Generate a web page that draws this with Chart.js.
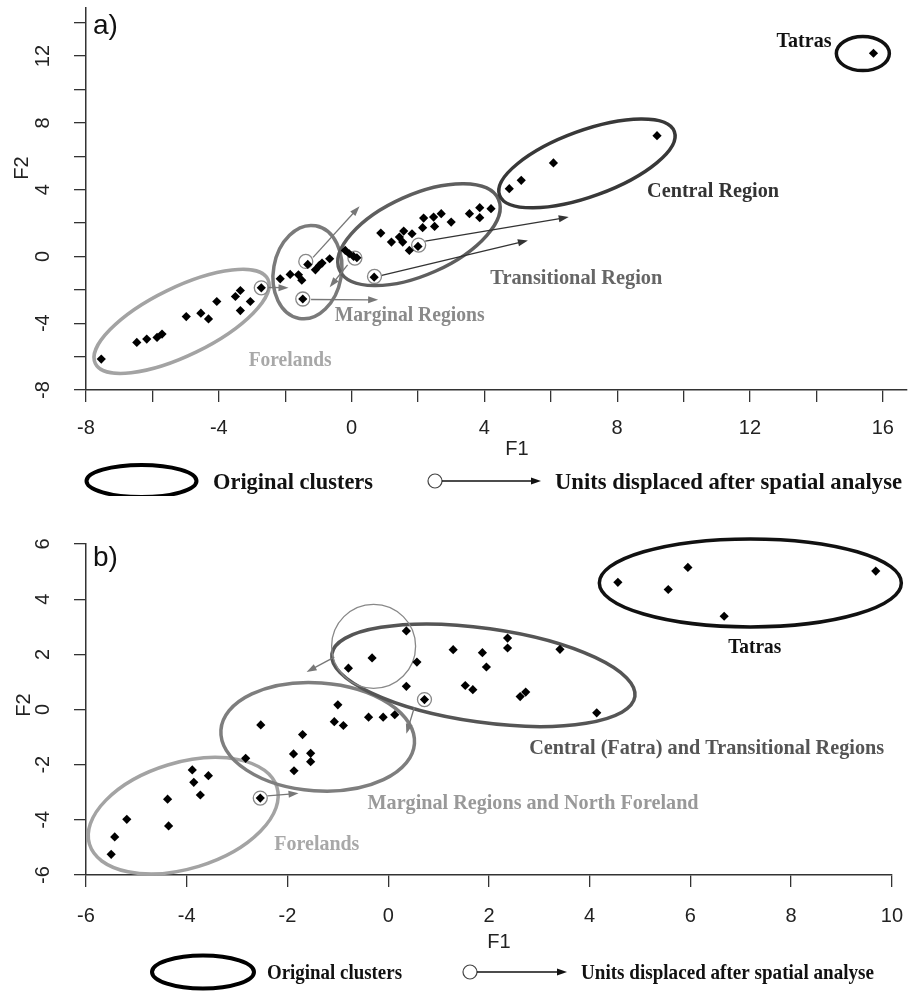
<!DOCTYPE html>
<html>
<head>
<meta charset="utf-8">
<script src="https://cdn.jsdelivr.net/npm/chart.js@4/dist/chart.umd.min.js"></script>
<style>
  body { margin: 0; background: #fff; }
  canvas { display: block; }
</style>
</head>
<body>
<canvas id="chartA" width="920" height="496"></canvas>
<canvas id="chartB" width="920" height="496"></canvas>
<script>
// panel a) scores on F1 / F2
const f1A = [-7.54, -6.47, -6.17, -5.86, -5.71, -4.98, -4.54, -4.31, -4.06, -3.5, -3.35, -3.35, -3.05,
  -2.72, -2.15, -1.85, -1.6, -1.5, -1.47, -1.32, -1.09, -0.97, -0.89, -0.66, -0.19, -0.07, 0.06, 0.16,
  0.68, 0.88, 1.2, 1.44, 1.57, 1.54, 1.74, 1.82, 2.0, 2.14, 2.17, 2.47, 2.5, 2.7, 3.0, 3.55, 3.86, 3.86,
  4.2, 4.75, 5.11, 6.08, 9.2, 15.72];
const f2A = [-6.15, -5.15, -4.95, -4.85, -4.65, -3.6, -3.4, -3.74, -2.7, -2.4, -2.04, -3.24, -2.7,
  -1.88, -1.34, -1.08, -1.1, -1.42, -2.55, -0.48, -0.8, -0.54, -0.4, -0.14, 0.36, 0.16, 0.0, -0.08,
  -1.24, 1.4, 0.86, 1.16, 1.52, 0.86, 0.36, 1.36, 0.6, 1.72, 2.3, 2.36, 1.8, 2.56, 2.06, 2.56, 2.92, 2.32,
  2.86, 4.06, 4.56, 5.6, 7.23, 12.17];

// panel b) scores on F1 / F2
const f1B = [-5.5, -5.43, -5.19, -4.38, -4.36, -3.89, -3.86, -3.73, -3.57, -2.54, -2.83, -2.53, -1.88,
  -1.87, -1.7, -1.54, -1.54, -1.07, -1.0, -0.89, -0.79, -0.39, -0.32, -0.1, 0.13, 0.36, 0.36, 0.57, 0.72,
  1.29, 1.53, 1.68, 1.87, 1.95, 2.37, 2.37, 2.62, 2.73, 3.41, 4.14, 4.56, 5.56, 5.95, 6.67, 9.68];
const f2B = [-5.25, -4.62, -3.98, -3.25, -4.22, -2.19, -2.64, -3.1, -2.4, -3.21, -1.77, -0.56, -1.61,
  -2.22, -0.91, -1.59, -1.89, -0.44, 0.17, -0.58, 1.5, -0.28, 1.87, -0.28, -0.19, 2.85, 0.84, 1.72, 0.36,
  2.17, 0.87, 0.72, 2.06, 1.54, 2.59, 2.23, 0.47, 0.63, 2.18, -0.12, 4.61, 4.35, 5.15, 3.38, 5.02];

// labelled ticks
const xLabelsA = [-8, -4, 0, 4, 8, 12, 16];
const yLabelsA = [-8, -4, 0, 4, 8, 12];
const xLabelsB = [-6, -4, -2, 0, 2, 4, 6, 8, 10];
const yLabelsB = [-6, -4, -2, 0, 2, 4, 6];

// cluster ellipses: centre in data units
const ellipsesA = [
  { x: -5.12, y: -3.89, rx: 96, ry: 34, rot: -26, color: '#a3a3a3' },
  { x: -1.33, y: -0.94, rx: 34, ry: 47, rot: 10, color: '#7a7a7a' },
  { x: 2.03, y: 1.3, rx: 87, ry: 40, rot: -24, color: '#5e5e5e' },
  { x: 7.09, y: 5.57, rx: 93, ry: 33, rot: -20, color: '#383838' },
  { x: 15.4, y: 12.15, rx: 26.5, ry: 17, rot: 0, color: '#111' },
];
const ellipsesB = [
  { x: -4.07, y: -3.85, rx: 98, ry: 53, rot: -17, color: '#a3a3a3' },
  { x: -1.4, y: -0.99, rx: 97, ry: 54, rot: 4, color: '#7e7e7e' },
  { x: 1.89, y: 1.24, rx: 153, ry: 47, rot: 8, color: '#555' },
  { x: 7.19, y: 4.59, rx: 151, ry: 44, rot: 0, color: '#111' },
];

// displaced units (circles) and their moves
const circlesA = [
  { x: -2.72, y: -1.88, r: 7 }, { x: -1.38, y: -0.3, r: 7 }, { x: 0.1, y: -0.1, r: 7 },
  { x: -1.47, y: -2.55, r: 7 }, { x: 0.69, y: -1.2, r: 7 }, { x: 2.02, y: 0.68, r: 7 },
];
const arrowsA = [
  { from: [-2.5, -1.86], to: [-1.9, -1.88], color: '#777' },
  { from: [-1.16, -0.06], to: [0.24, 3.0], color: '#777' },
  { from: [-0.12, -0.5], to: [-0.66, -1.84], color: '#777' },
  { from: [-1.22, -2.58], to: [0.8, -2.6], color: '#777' },
  { from: [2.22, 0.92], to: [6.54, 2.36], color: '#333' },
  { from: [0.91, -1.14], to: [5.31, 0.96], color: '#333' },
];
const circlesB = [
  { x: -2.54, y: -3.21, r: 7 }, { x: 0.72, y: 0.36, r: 7 }, { x: -0.29, y: 2.29, r: 42 },
];
const arrowsB = [
  { from: [-2.4, -3.13], to: [-1.78, -3.04], color: '#777' },
  { from: [0.52, 0.08], to: [0.36, -0.88], color: '#777' },
  { from: [-1.07, 1.9], to: [-1.62, 1.36], color: '#777' },
];

// region names: left edge / vertical centre in data units, width in px
const namesA = [
  { text: 'Tatras', x: 12.8, y: 12.97, w: 55, color: '#111' },
  { text: 'Central Region', x: 8.9, y: 4.0, w: 132, color: '#333' },
  { text: 'Transitional Region', x: 4.18, y: -1.26, w: 172, color: '#666' },
  { text: 'Marginal Regions', x: -0.51, y: -3.44, w: 150, color: '#8a8a8a' },
  { text: 'Forelands', x: -3.1, y: -6.13, w: 83, color: '#a8a8a8' },
];
const namesB = [
  { text: 'Tatras', x: 6.75, y: 2.29, w: 53, color: '#111' },
  { text: 'Central (Fatra) and Transitional Regions', x: 2.8, y: -1.38, w: 355, color: '#555' },
  { text: 'Marginal Regions and North Foreland', x: -0.41, y: -3.35, w: 331, color: '#999' },
  { text: 'Forelands', x: -2.26, y: -4.84, w: 85, color: '#a8a8a8' },
];

const SERIF = '"Liberation Serif", "Times New Roman", serif';
const SANS = '"Liberation Sans", Arial, sans-serif';

function fitText(ctx, text, x, yc, w, size, color) {
  ctx.save();
  ctx.font = 'bold ' + size + 'px ' + SERIF;
  ctx.fillStyle = color;
  ctx.textBaseline = 'alphabetic';
  ctx.textAlign = 'left';
  const m = ctx.measureText(text).width;
  ctx.translate(x, yc + size * 0.33);
  ctx.scale(w / m, 1);
  ctx.fillText(text, 0, 0);
  ctx.restore();
}

function arrow(ctx, x1, y1, x2, y2, color) {
  const a = Math.atan2(y2 - y1, x2 - x1);
  const c = Math.cos(a), s = Math.sin(a);
  ctx.strokeStyle = color;
  ctx.fillStyle = color;
  ctx.lineWidth = 1.3;
  ctx.beginPath();
  ctx.moveTo(x1, y1);
  ctx.lineTo(x2 - 6 * c, y2 - 6 * s);
  ctx.stroke();
  ctx.beginPath();
  ctx.moveTo(x2, y2);
  ctx.lineTo(x2 - 10 * c + 3.5 * s, y2 - 10 * s - 3.5 * c);
  ctx.lineTo(x2 - 10 * c - 3.5 * s, y2 - 10 * s + 3.5 * c);
  ctx.closePath();
  ctx.fill();
}

const clusters = {
  id: 'clusters',
  beforeDatasetsDraw(chart, args, opts) {
    const { ctx, scales: { x, y } } = chart;
    ctx.save();
    opts.ellipses.forEach(e => {
      ctx.beginPath();
      ctx.ellipse(x.getPixelForValue(e.x), y.getPixelForValue(e.y), e.rx, e.ry, e.rot * Math.PI / 180, 0, 2 * Math.PI);
      ctx.strokeStyle = e.color;
      ctx.lineWidth = 3.5;
      ctx.stroke();
    });
    opts.circles.forEach(c => {
      ctx.beginPath();
      ctx.arc(x.getPixelForValue(c.x), y.getPixelForValue(c.y), c.r, 0, 2 * Math.PI);
      ctx.strokeStyle = '#888';
      ctx.lineWidth = 1.3;
      ctx.stroke();
    });
    opts.arrows.forEach(a => {
      arrow(ctx, x.getPixelForValue(a.from[0]), y.getPixelForValue(a.from[1]),
        x.getPixelForValue(a.to[0]), y.getPixelForValue(a.to[1]), a.color);
    });
    opts.names.forEach(n => {
      fitText(ctx, n.text, x.getPixelForValue(n.x), y.getPixelForValue(n.y), n.w, 21, n.color);
    });
    ctx.restore();
  },
  afterDraw(chart, args, opts) {
    const { ctx, scales: { y } } = chart;
    ctx.save();
    // vertical tick labels
    ctx.font = '20px ' + SANS;
    ctx.fillStyle = '#222';
    ctx.textAlign = 'center';
    ctx.textBaseline = 'middle';
    opts.yLabels.forEach(v => {
      ctx.save();
      ctx.translate(43, y.getPixelForValue(v));
      ctx.rotate(-Math.PI / 2);
      ctx.fillText(String(v), 0, 0);
      ctx.restore();
    });
    // axis titles
    ctx.fillText('F1', opts.f1Pos[0], opts.f1Pos[1]);
    ctx.save();
    ctx.translate(opts.f2Pos[0], opts.f2Pos[1]);
    ctx.rotate(-Math.PI / 2);
    ctx.fillText('F2', 0, 0);
    ctx.restore();
    // panel letter
    ctx.font = '28px ' + SANS;
    ctx.textAlign = 'left';
    ctx.textBaseline = 'alphabetic';
    ctx.fillStyle = '#111';
    ctx.fillText(opts.letter, 93, opts.letterY);
    // legend row
    const L = opts.legend;
    ctx.beginPath();
    ctx.ellipse(L.ex, L.y, L.erx, L.ery, 0, 0, 2 * Math.PI);
    ctx.strokeStyle = '#000';
    ctx.lineWidth = 4;
    ctx.stroke();
    fitText(ctx, 'Original clusters', L.t1x, L.y, L.t1w, L.size, '#111');
    ctx.beginPath();
    ctx.arc(L.cx, L.y, 7, 0, 2 * Math.PI);
    ctx.strokeStyle = '#444';
    ctx.lineWidth = 1.2;
    ctx.stroke();
    arrow(ctx, L.cx + 7, L.y, L.ax, L.y, '#111');
    fitText(ctx, 'Units displaced after spatial analyse', L.t2x, L.y, L.t2w, L.size, '#111');
    ctx.restore();
  }
};

function makeChart(id, cfg) {
  const tickFont = { family: SANS, size: 20 };
  return new Chart(document.getElementById(id), {
    type: 'scatter',
    data: {
      datasets: [{
        data: cfg.f1.map((v, i) => ({ x: v, y: cfg.f2[i] })),
        pointStyle: 'rectRot',
        pointRadius: 4.6,
        backgroundColor: '#000',
        borderWidth: 0,
      }]
    },
    options: {
      responsive: false,
      animation: false,
      layout: { padding: { left: 0, right: 13, top: cfg.top, bottom: 0 } },
      scales: {
        x: {
          type: 'linear', min: cfg.xMin, max: cfg.xMax,
          ticks: {
            stepSize: 2, includeBounds: false, autoSkip: false, maxRotation: 0,
            padding: cfg.tickPad, color: '#222', font: tickFont,
            callback: v => cfg.xLabels.includes(v) ? String(v) : ''
          },
          grid: { drawOnChartArea: false, drawTicks: true, tickLength: 12, color: '#333', lineWidth: 1.3 },
          border: { display: true, color: '#333', width: 1.5 },
          afterFit: s => { s.height = cfg.xHeight; }
        },
        y: {
          type: 'linear', min: cfg.yMin, max: cfg.yMax,
          ticks: { stepSize: 2, includeBounds: false, display: false },
          grid: { drawOnChartArea: false, drawTicks: true, tickLength: 12, color: '#333', lineWidth: 1.3 },
          border: { display: true, color: '#333', width: 1.5 },
          afterFit: s => { s.width = 86; }
        }
      },
      plugins: {
        legend: { display: false },
        tooltip: { enabled: false },
        clusters: {
          ellipses: cfg.ellipses, circles: cfg.circles, arrows: cfg.arrows, names: cfg.names,
          yLabels: cfg.yLabels, letter: cfg.letter, letterY: cfg.letterY, legend: cfg.legend,
          f1Pos: cfg.f1Pos, f2Pos: cfg.f2Pos
        }
      }
    },
    plugins: [clusters]
  });
}

makeChart('chartA', {
  f1: f1A, f2: f2A, xMin: -8, xMax: 16.73, yMin: -8, yMax: 14.88,
  xLabels: xLabelsA, yLabels: yLabelsA, top: 8, xHeight: 106, tickPad: 14,
  ellipses: ellipsesA, circles: circlesA, arrows: arrowsA, names: namesA,
  letter: 'a)', letterY: 34, f1Pos: [517, 449], f2Pos: [22, 168],
  legend: { y: 481, ex: 141.5, erx: 55, ery: 16, t1x: 213, t1w: 160, cx: 435, ax: 541, t2x: 555, t2w: 347, size: 23 }
});

makeChart('chartB', {
  f1: f1B, f2: f2B, xMin: -6, xMax: 10, yMin: -6, yMax: 6,
  xLabels: xLabelsB, yLabels: yLabelsB, top: 48, xHeight: 117, tickPad: 17,
  ellipses: ellipsesB, circles: circlesB, arrows: arrowsB, names: namesB,
  letter: 'b)', letterY: 70, f1Pos: [499, 446], f2Pos: [24, 209],
  legend: { y: 476, ex: 203, erx: 51, ery: 16.5, t1x: 267, t1w: 135, cx: 470, ax: 567, t2x: 581, t2w: 293, size: 22 }
});
</script>
</body>
</html>
